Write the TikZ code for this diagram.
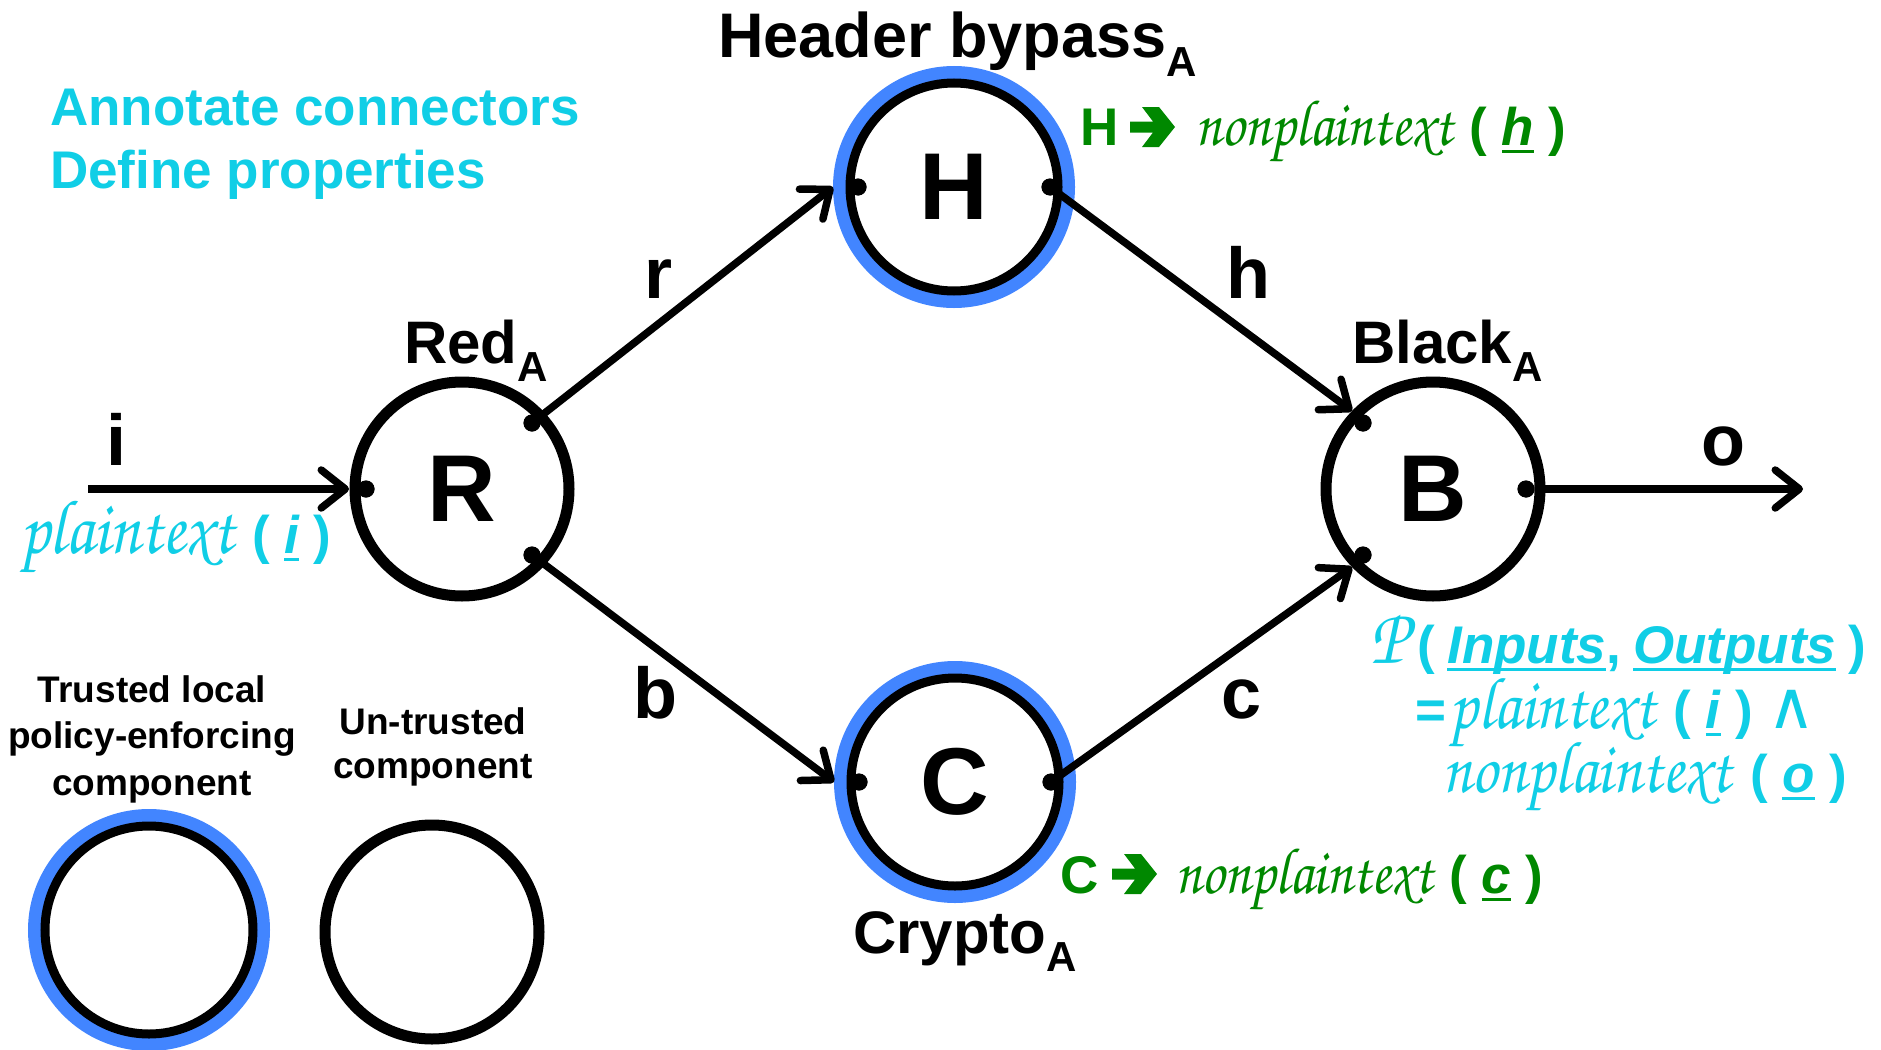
\documentclass[tikz,border=0pt]{standalone}
\usepackage[T1]{fontenc}
\usepackage{fontspec}
\usepackage{graphicx}
\setmainfont{Liberation Sans}
\newfontfamily\dejavu{DejaVu Sans}
\usetikzlibrary{arrows.meta,calc}

\definecolor{ringblue}{RGB}{66,133,255}
\definecolor{anncyan}{RGB}{16,206,230}
\definecolor{anngreen}{RGB}{0,136,0}

\newcommand\fs[1]{\fontsize{#1}{#1}\selectfont}
\newcommand\chan{\fontencoding{T1}\fontfamily{pzc}\fontseries{mb}\fontshape{it}\selectfont}
% chancery italic words, slightly stretched upwards
\newcommand\calli[2]{\scalebox{1}[1.15]{\chan\fs{#1}#2}}
\newcommand\subA{\raisebox{-18pt}{\fs{42}A}}
\newsavebox\ulbox
\newcommand\ulx[1]{\sbox\ulbox{#1}\rlap{\rule[-8pt]{\wd\ulbox}{3.5pt}}\usebox\ulbox}

\begin{document}
\begin{tikzpicture}[x=1pt,y=-1pt,
  every node/.style={inner sep=0pt,outer sep=0pt},
  untrusted/.style={circle,draw=black,line width=11pt,fill=white,minimum size=214pt,font=\bfseries\fs{95}},
  trusted/.style={circle,draw=black,line width=9pt,fill=white,minimum size=208pt,font=\bfseries\fs{95},
    preaction={draw=ringblue,line width=34pt}},
  port/.style={circle,fill=black,minimum size=17pt,draw=none},
  conn/.style={line width=7.5pt,-{Straight Barb[length=24pt,width=38pt,round]}},
  edgelbl/.style={anchor=base,font=\bfseries\fs{72}},
  titlelbl/.style={anchor=base west,font=\bfseries\fs{60}},
  legendtxt/.style={anchor=base,font=\bfseries\fs{37}},
  ann/.style={anchor=base west,font=\bfseries\fs{53}},
  pics/fatarrow/.style={code={
    \fill (0,-5.5) -- (23,-5.5) -- (12,-20) -- (29,-20) -- (45,0) -- (29,20)
      -- (12,20) -- (23,5.5) -- (0,5.5) -- cycle;}}
]
\useasboundingbox[fill=white] (0,0) rectangle (1881,1049);

% components
\node[untrusted] (R) at (462,489) {R};
\node[trusted]   (H) at (954,187) {H};
\node[trusted]   (C) at (955,782) {C};
\node[untrusted] (B) at (1433,489) {B};

% component titles
\node[titlelbl] (Rt) at (404,363) {Red\subA};
\node[titlelbl,font=\bfseries\fs{63}] (Ht) at (718,58) {Header bypass\subA};
\node[titlelbl] (Bt) at (1352,363) {Black\subA};
\node[titlelbl] (Ct) at (853,953) {Crypto\subA};

% ports
\node[port] (Rw)  at ($(R)+(-96,0)$) {};
\node[port] (Rne) at ($(R)+(70,-66)$) {};
\node[port] (Rse) at ($(R)+(70,66)$) {};
\node[port] (Hw)  at ($(H)+(-96,0)$) {};
\node[port] (He)  at ($(H)+(96,0)$) {};
\node[port] (Cw)  at ($(C)+(-96,0)$) {};
\node[port] (Ce)  at ($(C)+(96,0)$) {};
\node[port] (Bnw) at ($(B)+(-70,-66)$) {};
\node[port] (Bsw) at ($(B)+(-70,66)$) {};
\node[port] (Be)  at ($(B)+(93,0)$) {};

% connector ends on the outer rims
\coordinate (src) at (88,489);
\coordinate (Rin) at ($(R)+(-113,0)$);
\coordinate (Hin) at ($(H)+(-121,0)$);
\coordinate (Cin) at ($(C)+(-121,0)$);
\coordinate (Bin1) at ($(B)+(-81,-78)$);
\coordinate (Bin2) at ($(B)+(-81,78)$);
\coordinate (sink) at (1803,489);

\draw[conn] (src) -- (Rin);
\draw[conn] (Rne) -- (Hin);
\draw[conn] (Rse) -- (Cin);
\draw[conn] (He) -- (Bin1);
\draw[conn] (Ce) -- (Bin2);
\draw[conn] (Be) -- (sink);

% redraw ports above the connectors
\foreach \p in {Rw,Rne,Rse,Hw,He,Cw,Ce,Bnw,Bsw,Be}
  \fill (\p) circle (8.5);

% connector labels
\node[edgelbl] (li) at (117,465) {i};
\node[edgelbl] (lr) at (659,298) {r};
\node[edgelbl] (lh) at (1248,298) {h};
\node[edgelbl] (lb) at (655,718) {b};
\node[edgelbl] (lc) at (1242,718) {c};
\node[edgelbl] (lo) at (1723,465) {o};

% instructions
\node[ann,text=anncyan] (ins1) at (50,125) {Annotate connectors};
\node[ann,text=anncyan] (ins2) at (50,188) {Define properties};

% connector properties
\node[ann,text=anncyan] (pi) at (20,553) {\calli{67}{plaintext}\hspace{3pt} ( \ulx{\itshape i} )};

\node[ann,text=anngreen] (hH) at (1080,145) {H};
\pic[anngreen] at (1130,127) {fatarrow};
\node[ann,text=anngreen] (hprop) at (1195,145) {\calli{57}{nonplaintext}\hspace{2pt} ( \ulx{\itshape h} )};

\node[ann,text=anngreen] (cC) at (1060,893) {C};
\pic[anngreen] at (1112,874) {fatarrow};
\node[ann,text=anngreen] (cprop) at (1175,893) {\calli{57}{nonplaintext}\hspace{2pt} ( \ulx{\itshape c} )};

% component property
\node[ann,text=anncyan] (f1) at (1370,663) {\calli{70}{P}\hspace{10pt}(\hspace{12pt}\ulx{\itshape Inputs},\hspace{12pt}\ulx{\itshape Outputs}\hspace{12pt})};
\node[ann,text=anncyan] (f2) at (1415,728) {=\hspace{4pt}\calli{64}{plaintext}\hspace{4pt} ( \ulx{\itshape i} ) {\dejavu\mdseries\fs{66}∧}};
\node[ann,text=anncyan] (f3) at (1442,792) {\calli{64}{nonplaintext}\hspace{4pt} ( \ulx{\itshape o} )};

% legend
\node[legendtxt] (lg1) at (152,702) {Trusted local};
\node[legendtxt] (lg2) at (152,748) {policy-enforcing};
\node[legendtxt] (lg3) at (152,795) {component};
\node[legendtxt] (lg4) at (433,734) {Un-trusted};
\node[legendtxt] (lg5) at (433,778) {component};
\node[trusted]   (legT) at (149,930) {};
\node[untrusted] (legU) at (432,932) {};
\end{tikzpicture}
\end{document}
